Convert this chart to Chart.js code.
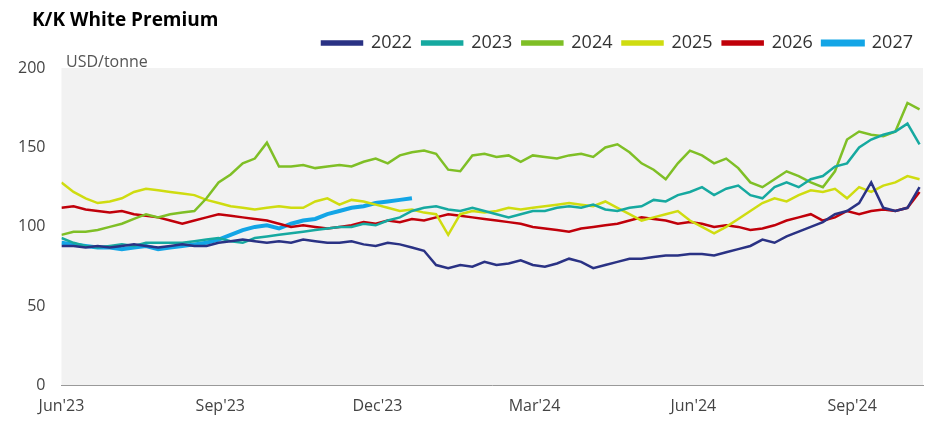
<!DOCTYPE html>
<html><head><meta charset="utf-8">
<script src="https://cdn.jsdelivr.net/npm/chart.js@4/dist/chart.umd.min.js"></script>
<style>body{margin:0;background:#fff;font-family:"Open Sans",sans-serif}#wrap{width:945px;height:443px;position:relative}
#t{position:absolute;left:32px;top:6px;font-weight:bold;font-size:19px;color:#000}</style>
</head><body><div id="wrap"><div id="t">K/K White Premium</div><canvas id="c" width="945" height="443"></canvas></div>
<script>
// days since 1 Jun 2023, sampled every 7 days
const days = Array.from({length: 72}, (_, i) => i * 7);
const tickDays = [0, 92, 183, 274, 366, 458];
const tickLabels = ["Jun'23", "Sep'23", "Dec'23", "Mar'24", "Jun'24", "Sep'24"];

const s2022 = [88,88,87,88,87,88,89,88,87,88,89,88,88,90,91,92,91,90,91,90,92,91,90,90,91,89,88,90,89,87,85,76,74,76,75,78,76,77,79,76,75,77,80,78,74,76,78,80,80,81,82,82,83,83,82,84,86,88,92,90,94,97,100,103,108,110,115,128,112,110,112,125];
const s2023 = [93,90,88,87,88,89,88,90,90,90,90,91,92,93,91,90,93,94,95,96,97,98,99,100,100,102,101,104,106,110,112,113,111,110,112,110,108,106,108,110,110,112,113,112,114,111,110,112,113,117,116,120,122,125,120,124,126,120,118,125,128,125,130,132,138,140,150,155,158,160,165,152];
const s2024 = [95,97,97,98,100,102,105,108,106,108,109,110,118,128,133,140,143,153,138,138,139,137,138,139,138,141,143,140,145,147,148,146,136,135,145,146,144,145,141,145,144,143,145,146,144,150,152,147,140,136,130,140,148,145,140,143,137,128,125,130,135,132,128,125,135,155,160,158,157,160,178,174];
const s2025 = [128,122,118,115,116,118,122,124,123,122,121,120,117,115,113,112,111,112,113,112,112,116,118,114,117,116,114,112,110,111,109,108,95,108,110,109,110,112,111,112,113,114,115,114,113,116,112,108,104,106,108,110,104,100,96,100,105,110,115,118,116,120,123,122,124,118,125,122,126,128,132,130];
const s2026 = [112,113,111,110,109,110,108,107,106,104,102,104,106,108,107,106,105,104,102,100,101,100,99,100,101,103,102,104,103,105,104,106,108,107,106,105,104,103,102,100,99,98,97,99,100,101,102,104,106,105,104,102,103,102,100,101,100,98,99,101,104,106,108,104,106,110,108,110,111,110,112,122];
const s2027 = [90,89,88,87,87,86,87,88,86,87,88,89,90,92,95,98,100,101,99,102,104,105,108,110,112,113,115,116,117,118];

const colors = ['#2a3284', '#16a9a0', '#7fbf26', '#cfdc10', '#c0000a', '#13a5e6'];
const names = ['2022', '2023', '2024', '2025', '2026', '2027'];
const series = [s2022, s2023, s2024, s2025, s2026, s2027];

const bgPlugin = {
  id: 'bg',
  beforeInit(ch) {
    const fit = ch.legend.fit;
    ch.legend.fit = function () { fit.bind(ch.legend)(); this.height += 6; };
  },
  beforeDraw(ch) {
    const a = ch.chartArea, c = ch.ctx;
    c.save(); c.fillStyle = '#f2f2f2'; c.fillRect(a.left, a.top, a.right - a.left, a.bottom - a.top); c.restore();
  },
  afterDraw(ch) {
    const c = ch.ctx;
    c.save(); c.fillStyle = '#555'; c.font = '16px "Open Sans"'; c.fillText('USD/tonne', 66, 62); c.restore();
  }
};

new Chart(document.getElementById('c'), {
  type: 'line',
  data: {
    datasets: series.map((s, i) => ({
      label: names[i],
      data: s.map((v, j) => ({x: days[j], y: v})),
      borderColor: colors[i], backgroundColor: colors[i],
      borderWidth: i === 5 ? 4 : 2.5, pointRadius: 0, tension: 0
    }))
  },
  options: {
    responsive: false, animation: false,
    layout: {padding: {left: 10, right: 22, top: 24, bottom: 24}},
    plugins: {
      legend: {
        align: 'end', labels: {boxWidth: 40, boxHeight: 3, padding: 10, color: '#333', font: {size: 18, family: 'Open Sans'}}
      },
      tooltip: {enabled: false}
    },
    scales: {
      x: {
        type: 'linear', min: 0, max: 499,
        afterBuildTicks: ax => { ax.ticks = tickDays.map(v => ({value: v})); },
        ticks: {callback: (v) => tickLabels[tickDays.indexOf(v)], color: '#444', font: {size: 16, family: 'Open Sans'}, maxRotation: 0, autoSkip: false},
        grid: {display: false}, border: {color: '#999'}
      },
      y: {
        min: 0, max: 200,
        ticks: {stepSize: 50, color: '#444', font: {size: 16, family: 'Open Sans'}, padding: 8},
        grid: {display: false}, border: {display: false}
      }
    }
  },
  plugins: [bgPlugin]
});
</script></body></html>
